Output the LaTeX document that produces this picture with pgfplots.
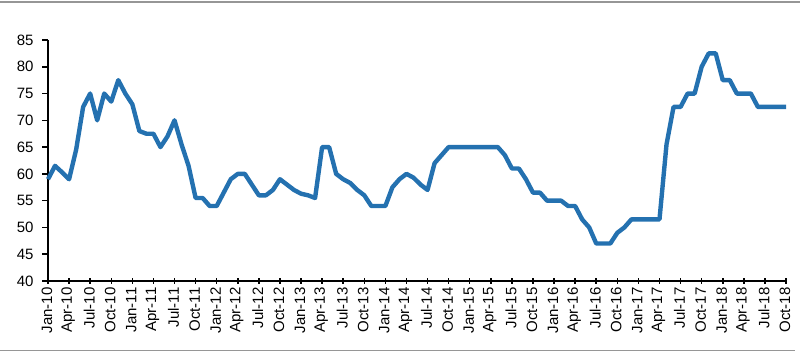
\documentclass[border=0pt]{standalone}
\usepackage{fontspec}
\setmainfont{Liberation Sans}
\usepackage{pgfplots}
\pgfplotsset{compat=1.18}
\usepackage{pgfplotstable}
\definecolor{lineblue}{RGB}{36,113,176}
\definecolor{framegray}{RGB}{150,150,150}
\pgfplotstableread{
i v
0 59
1 61.5
2 60.3
3 59
4 64.5
5 72.5
6 75
7 70
8 75
9 73.5
10 77.5
11 75
12 73
13 68
14 67.5
15 67.5
16 65
17 67
18 70
19 65.5
20 61.5
21 55.5
22 55.5
23 54
24 54
25 56.5
26 59
27 60
28 60
29 58
30 56
31 56
32 57
33 59
34 58
35 57
36 56.3
37 56
38 55.5
39 65
40 65
41 60
42 59
43 58.3
44 57
45 56
46 54
47 54
48 54
49 57.5
50 59
51 60
52 59.3
53 58
54 57
55 62
56 63.5
57 65
58 65
59 65
60 65
61 65
62 65
63 65
64 65
65 63.5
66 61
67 61
68 59
69 56.5
70 56.5
71 55
72 55
73 55
74 54
75 54
76 51.5
77 50
78 47
79 47
80 47
81 49
82 50
83 51.5
84 51.5
85 51.5
86 51.5
87 51.5
88 65.5
89 72.5
90 72.5
91 75
92 75
93 80
94 82.5
95 82.5
96 77.5
97 77.5
98 75
99 75
100 75
101 72.5
102 72.5
103 72.5
104 72.5
105 72.5
}\pricedata
\begin{document}
\begin{tikzpicture}[x=1pt,y=1pt]
\useasboundingbox (0,0) rectangle (800,353);
\draw[framegray,line width=1.8pt] (0,351) -- (800,351);
\draw[framegray,line width=1.8pt] (0,2.5) -- (795,2.5);
\begin{axis}[
  at={(48pt,72pt)}, anchor=south west,
  scale only axis, width=738pt, height=241pt,
  xmin=0, xmax=105, ymin=40, ymax=85,
  axis lines*=left,
  axis line style={black, line width=1.9pt, -},
  ytick={40,45,...,85},
  xtick={0,3,...,105},
  xticklabels={Jan-10,Apr-10,Jul-10,Oct-10,Jan-11,Apr-11,Jul-11,Oct-11,Jan-12,Apr-12,Jul-12,Oct-12,Jan-13,Apr-13,Jul-13,Oct-13,Jan-14,Apr-14,Jul-14,Oct-14,Jan-15,Apr-15,Jul-15,Oct-15,Jan-16,Apr-16,Jul-16,Oct-16,Jan-17,Apr-17,Jul-17,Oct-17,Jan-18,Apr-18,Jul-18,Oct-18},
  /pgf/number format/assume math mode=true,
  tick style={black, line width=1.5pt},
  ytick align=outside, xtick align=center,
  major tick length=6pt,
  yticklabel style={font=\fontsize{15}{17}\selectfont, xshift=-5pt},
  xticklabel style={font=\fontsize{15}{17}\selectfont, rotate=90, anchor=east, yshift=1pt},
  clip=false,
]
\addplot[lineblue, line width=4.4pt, line join=round, no markers] table[x=i,y=v] {\pricedata};
\end{axis}
\end{tikzpicture}
\end{document}
